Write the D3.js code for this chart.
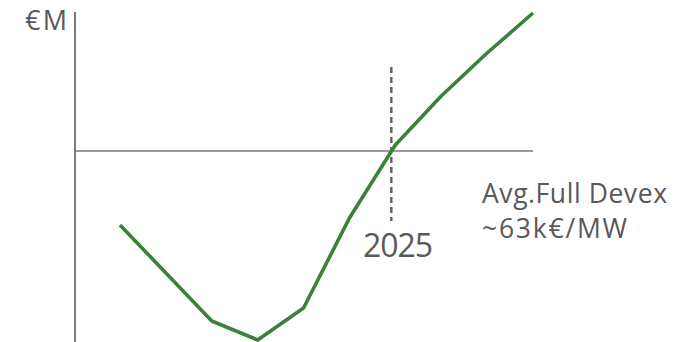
<!DOCTYPE html>
<html><head><meta charset="utf-8">
<script src="https://cdn.jsdelivr.net/npm/d3@7"></script>
<style>body{margin:0;background:#fff}svg{display:block}text{font-family:"Open Sans",sans-serif;fill:#595959}</style>
</head><body>
<svg id="c" width="690" height="342"></svg>
<script>
const years = [2019,2020,2021,2022,2023,2024,2025,2026,2027,2028];
const values = [-7.4,-12.2,-17.0,-18.9,-15.7,-6.7,0.6,5.5,9.8,13.8];
const markerYear = 2025;
const yUnit = "€M";
const noteLines = ["Avg.Full Devex","~63k€/MW"];

const svg = d3.select("#c");
const x = d3.scalePoint().domain(years).range([120,533]);
const y = d3.scaleLinear().domain([-19.1,13.9]).range([342,12]);
const grey = "#7a7a7a";

// y axis
svg.append("line").attr("x1",75).attr("x2",75).attr("y1",12).attr("y2",342)
  .attr("stroke",grey).attr("stroke-width",2);
// zero axis
svg.append("line").attr("x1",75).attr("x2",533).attr("y1",y(0)).attr("y2",y(0))
  .attr("stroke",grey).attr("stroke-width",1.6);
// dashed marker
const mx = x(markerYear) - 4;
svg.append("line").attr("x1",mx).attr("x2",mx).attr("y1",67).attr("y2",221)
  .attr("stroke","#5f5f5f").attr("stroke-width",2.4).attr("stroke-dasharray","6,4");

// line
svg.append("path").datum(years.map((yr,i)=>[yr,values[i]]))
  .attr("d", d3.line().x(d=>x(d[0])).y(d=>y(d[1])))
  .attr("fill","none").attr("stroke","#3b8139").attr("stroke-width",3.6).attr("stroke-linejoin","round");

svg.append("text").attr("x",25).attr("y",30).attr("font-size",27).attr("textLength",42).text(yUnit);
svg.append("text").attr("x",363).attr("y",257).attr("font-size",32).attr("textLength",70).text(String(markerYear));
const lens = [185,145];
noteLines.forEach((t,i)=>svg.append("text").attr("x",482).attr("y",203+i*35).attr("font-size",26.5)
  .attr("textLength",lens[i]).text(t));
</script>
</body></html>
